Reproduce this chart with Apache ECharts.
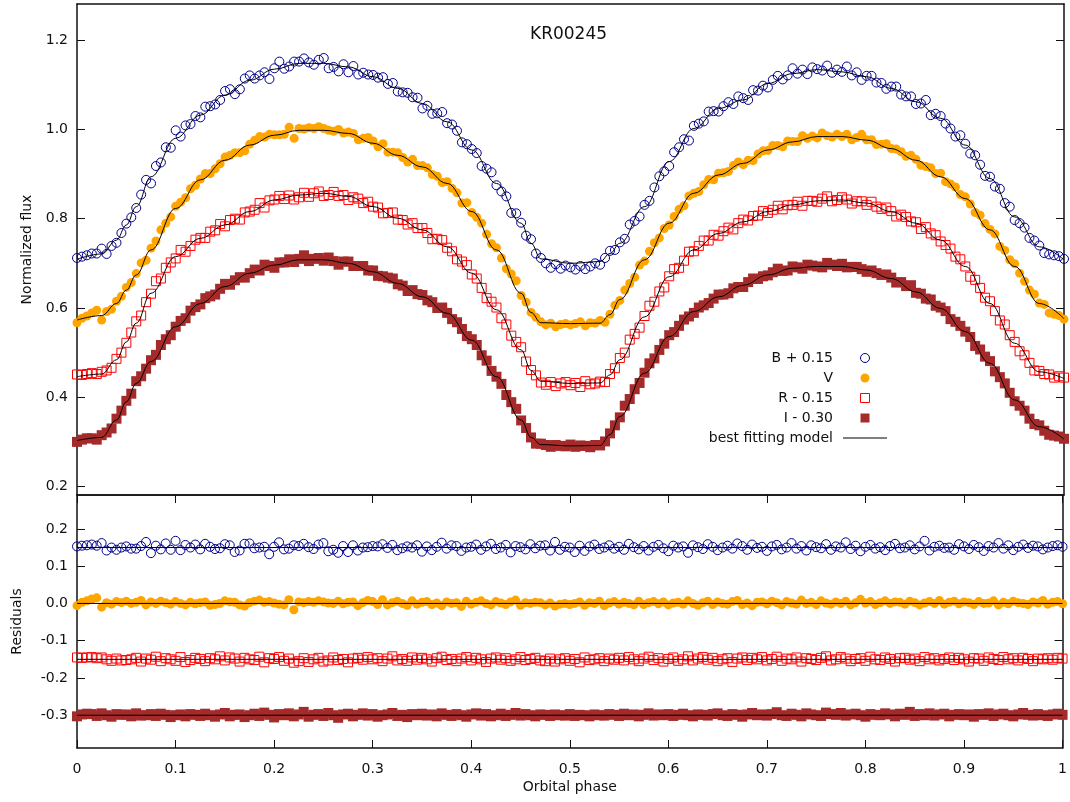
<!DOCTYPE html>
<html><head><meta charset="utf-8">
<script src="https://cdn.jsdelivr.net/npm/echarts@6/dist/echarts.min.js"></script>
<style>html,body{margin:0;padding:0;background:#fff}#c{width:1070px;height:802px}</style>
</head><body><div id="c"></div>
<script>
// Orbital phase of each observation
const phase = [0,.005,.01,.015,.02,.025,.03,.035,.04,.045,
.05,.055,.06,.065,.07,.075,.08,.085,.09,.095,
.1,.105,.11,.115,.12,.125,.13,.135,.14,.145,
.15,.155,.16,.165,.17,.175,.18,.185,.19,.195,
.2,.205,.21,.215,.22,.225,.23,.235,.24,.245,
.25,.255,.26,.265,.27,.275,.28,.285,.29,.295,
.3,.305,.31,.315,.32,.325,.33,.335,.34,.345,
.35,.355,.36,.365,.37,.375,.38,.385,.39,.395,
.4,.405,.41,.415,.42,.425,.43,.435,.44,.445,
.45,.455,.46,.465,.47,.475,.48,.485,.49,.495,
.5,.505,.51,.515,.52,.525,.53,.535,.54,.545,
.55,.555,.56,.565,.57,.575,.58,.585,.59,.595,
.6,.605,.61,.615,.62,.625,.63,.635,.64,.645,
.65,.655,.66,.665,.67,.675,.68,.685,.69,.695,
.7,.705,.71,.715,.72,.725,.73,.735,.74,.745,
.75,.755,.76,.765,.77,.775,.78,.785,.79,.795,
.8,.805,.81,.815,.82,.825,.83,.835,.84,.845,
.85,.855,.86,.865,.87,.875,.88,.885,.89,.895,
.9,.905,.91,.915,.92,.925,.93,.935,.94,.945,
.95,.955,.96,.965,.97,.975,.98,.985,.99,.995,
1];

// Normalized flux (shifted)
const bFlux = [.712,.715,.718,.722,.722,.733,.721,.739,.746,.768,
.789,.803,.824,.854,.887,.879,.918,.926,.960,.959,
.998,.984,1.009,1.012,1.030,1.027,1.051,1.052,1.056,1.066,
1.086,1.090,1.079,1.090,1.114,1.121,1.114,1.121,1.128,1.113,
1.137,1.152,1.136,1.141,1.152,1.152,1.159,1.150,1.145,1.156,
1.160,1.137,1.140,1.130,1.146,1.128,1.142,1.123,1.127,1.123,
1.122,1.116,1.117,1.102,1.104,1.085,1.083,1.082,1.072,1.071,
1.047,1.053,1.035,1.036,1.039,1.014,1.011,.997,.971,.967,
.956,.947,.918,.912,.904,.875,.861,.850,.813,.812,
.791,.762,.754,.722,.712,.700,.690,.698,.688,.695,
.691,.686,.694,.687,.693,.700,.697,.712,.728,.730,
.747,.755,.787,.795,.805,.831,.840,.870,.895,.906,
.918,.949,.960,.978,.975,1.008,1.013,1.018,1.040,1.041,
1.040,1.052,1.061,1.057,1.074,1.070,1.066,1.088,1.087,1.098,
1.094,1.111,1.120,1.112,1.121,1.137,1.125,1.134,1.124,1.139,
1.135,1.132,1.143,1.127,1.134,1.129,1.141,1.121,1.128,1.111,
1.120,1.120,1.105,1.104,1.091,1.096,1.096,1.078,1.074,1.074,
1.057,1.058,1.066,1.032,1.035,1.030,1.013,1.002,.984,.987,
.968,.946,.942,.921,.896,.894,.872,.867,.835,.827,
.797,.790,.780,.757,.751,.740,.723,.720,.718,.716,
.710];

const vFlux = [.567,.577,.582,.589,.595,.573,.592,.597,.615,.626,
.646,.657,.677,.701,.707,.734,.750,.775,.790,.804,
.828,.837,.847,.867,.875,.889,.901,.901,.912,.923,
.938,.942,.948,.948,.952,.967,.976,.984,.983,.989,
.988,.988,.989,1.005,.980,1.002,1.001,1.004,1.002,1.006,
1.002,.998,.996,1.000,.992,.994,.991,.977,.980,.982,
.974,.961,.968,.949,.949,.948,.937,.927,.933,.919,
.919,.914,.899,.895,.881,.883,.868,.858,.835,.836,
.814,.803,.790,.765,.744,.735,.712,.688,.676,.661,
.628,.613,.590,.579,.569,.562,.566,.558,.563,.565,
.562,.565,.569,.560,.567,.566,.572,.568,.586,.606,
.617,.640,.655,.669,.696,.705,.727,.746,.757,.778,
.786,.805,.821,.829,.851,.857,.861,.876,.888,.887,
.902,.903,.906,.919,.927,.921,.931,.930,.945,.952,
.953,.964,.964,.961,.974,.973,.973,.986,.980,.985,
.981,.992,.986,.983,.989,.984,.989,.977,.982,.989,
.977,.977,.966,.967,.968,.957,.956,.950,.940,.942,
.933,.920,.917,.914,.901,.902,.883,.878,.871,.854,
.849,.833,.814,.808,.789,.776,.766,.738,.729,.708,
.699,.678,.660,.640,.631,.611,.608,.589,.586,.583,
.575];

const rFlux = [.451,.450,.452,.454,.452,.457,.460,.466,.486,.500,
.522,.545,.570,.583,.613,.632,.660,.666,.690,.702,
.711,.730,.726,.739,.753,.757,.757,.771,.774,.788,
.783,.797,.800,.798,.814,.816,.820,.835,.825,.841,
.843,.851,.844,.852,.843,.848,.858,.849,.857,.861,
.851,.853,.860,.851,.853,.842,.848,.845,.835,.838,
.827,.825,.812,.813,.814,.798,.797,.787,.790,.779,
.779,.768,.754,.755,.752,.735,.727,.709,.704,.696,
.675,.666,.645,.622,.614,.601,.577,.563,.538,.524,
.512,.480,.461,.449,.433,.428,.434,.425,.431,.434,
.427,.432,.423,.436,.429,.431,.435,.434,.452,.465,
.488,.500,.529,.542,.556,.582,.605,.614,.637,.646,
.671,.687,.690,.706,.726,.727,.739,.751,.751,.764,
.762,.772,.780,.776,.790,.798,.796,.806,.807,.817,
.813,.820,.829,.821,.830,.831,.838,.829,.840,.840,
.838,.845,.850,.839,.842,.848,.843,.834,.839,.839,
.831,.838,.827,.822,.825,.817,.805,.809,.804,.794,
.792,.777,.781,.767,.763,.749,.741,.733,.715,.709,
.693,.670,.663,.645,.623,.615,.593,.572,.563,.539,
.524,.503,.494,.477,.460,.459,.452,.451,.444,.447,
.444];

const iFlux = [.300,.305,.308,.308,.305,.315,.321,.330,.352,.370,
.392,.408,.436,.447,.464,.483,.495,.517,.530,.539,
.558,.571,.577,.594,.602,.608,.622,.626,.630,.643,
.654,.652,.662,.669,.668,.678,.686,.684,.697,.694,
.690,.702,.702,.709,.703,.710,.718,.705,.710,.712,
.706,.713,.705,.697,.704,.704,.694,.694,.694,.684,
.684,.672,.671,.668,.666,.653,.650,.638,.640,.631,
.629,.617,.613,.600,.601,.589,.575,.568,.553,.537,
.530,.517,.494,.482,.459,.446,.430,.405,.389,.374,
.348,.331,.310,.296,.296,.293,.289,.293,.291,.290,
.294,.289,.292,.291,.288,.293,.292,.301,.319,.337,
.355,.381,.396,.418,.432,.455,.476,.487,.506,.520,
.539,.546,.560,.574,.581,.589,.601,.606,.611,.621,
.630,.630,.633,.644,.647,.647,.658,.666,.665,.671,
.673,.680,.688,.683,.684,.693,.691,.688,.697,.695,
.693,.691,.701,.697,.694,.699,.691,.692,.692,.687,
.681,.684,.678,.674,.675,.668,.657,.658,.649,.651,
.634,.632,.621,.619,.605,.601,.593,.575,.569,.560,
.547,.535,.515,.507,.491,.481,.458,.445,.431,.410,
.391,.381,.370,.352,.340,.337,.325,.316,.314,.312,
.307];

// Residuals (shifted)
const bRes = [.153,.155,.156,.158,.155,.162,.142,.150,.144,.150,
.153,.147,.147,.154,.165,.135,.155,.145,.161,.144,
.168,.143,.157,.150,.158,.145,.160,.152,.146,.148,
.159,.156,.138,.142,.160,.161,.148,.150,.152,.132,
.152,.164,.145,.147,.156,.154,.160,.151,.146,.158,
.162,.140,.144,.136,.154,.138,.156,.142,.150,.151,
.154,.153,.159,.149,.157,.143,.148,.153,.150,.156,
.139,.153,.143,.152,.163,.147,.156,.154,.141,.150,
.152,.158,.144,.153,.160,.146,.150,.157,.137,.154,
.151,.145,.159,.148,.155,.156,.142,.165,.144,.152,
.150,.138,.155,.141,.153,.158,.146,.150,.156,.147,
.152,.144,.160,.151,.145,.154,.142,.152,.157,.148,
.140,.155,.150,.153,.136,.156,.151,.146,.159,.152,
.143,.150,.155,.147,.161,.154,.144,.158,.149,.152,
.141,.153,.157,.145,.150,.162,.147,.154,.142,.156,
.151,.148,.159,.144,.153,.150,.164,.146,.155,.140,
.152,.157,.147,.151,.143,.154,.160,.148,.150,.156,
.145,.153,.168,.142,.152,.155,.149,.150,.144,.159,
.153,.146,.157,.151,.141,.154,.150,.162,.147,.156,
.143,.152,.158,.149,.155,.153,.145,.150,.154,.156,
.152];

const vRes = [-.006,.003,.007,.012,.015,-.010,.002,-.002,.005,.002,
.006,0,.003,.008,-.004,.004,0,.006,.002,-.002,
.005,0,-.004,.003,-.001,.002,.004,-.005,-.003,0,
.007,.004,.003,-.004,-.007,.002,.006,.009,.003,.005,
.001,-.002,-.004,.010,-.017,.004,.002,.005,.003,.007,
.004,.001,0,.006,-.001,.003,.004,-.006,.002,.008,
.005,-.003,.010,-.004,.002,.006,0,-.005,.007,-.002,
.003,.005,-.003,.001,-.006,.004,0,.002,-.008,.006,
-.002,.003,.007,0,-.004,.005,.001,-.003,.004,.009,
-.005,.002,0,.003,.002,-.004,.001,-.007,-.002,0,
-.003,0,.004,-.005,.002,0,.006,-.006,.001,.005,
-.002,.003,0,-.004,.006,-.003,.002,.005,-.001,.004,
-.004,.001,.003,-.002,.007,0,-.005,.002,.006,-.003,
.004,0,-.002,.005,.008,-.003,.001,-.006,.003,.004,
-.001,.006,.002,-.004,.005,.001,-.002,.009,0,.003,
-.003,.007,.001,-.002,.004,0,.006,-.004,.002,.011,
.001,.005,-.003,.002,.007,0,.004,.003,-.002,.006,
.002,-.004,.001,.005,0,.008,-.002,.003,.006,-.001,
.004,.002,-.003,.005,0,.001,.007,-.004,.003,-.001,
.006,.002,0,-.003,.004,.001,.008,-.002,.003,.005,
-.001];

const rRes = [-.145,-.146,-.145,-.144,-.147,-.145,-.150,-.154,-.148,-.153,
-.152,-.150,-.146,-.156,-.148,-.151,-.143,-.155,-.147,-.150,
-.154,-.144,-.157,-.152,-.146,-.149,-.155,-.147,-.150,-.142,
-.153,-.145,-.148,-.156,-.146,-.150,-.152,-.143,-.158,-.147,
-.149,-.144,-.154,-.148,-.159,-.155,-.147,-.157,-.150,-.146,
-.156,-.153,-.145,-.152,-.149,-.158,-.148,-.146,-.151,-.144,
-.150,-.147,-.155,-.148,-.142,-.153,-.149,-.154,-.145,-.151,
-.146,-.150,-.156,-.147,-.143,-.152,-.149,-.155,-.148,-.144,
-.153,-.146,-.150,-.157,-.148,-.145,-.151,-.147,-.154,-.150,
-.144,-.152,-.149,-.146,-.153,-.155,-.148,-.156,-.150,-.147,
-.154,-.149,-.158,-.145,-.152,-.150,-.147,-.155,-.148,-.151,
-.146,-.153,-.144,-.150,-.155,-.148,-.143,-.152,-.147,-.156,
-.149,-.145,-.154,-.150,-.142,-.153,-.148,-.144,-.151,-.146,
-.155,-.150,-.147,-.157,-.148,-.145,-.152,-.146,-.150,-.144,
-.153,-.149,-.143,-.154,-.148,-.150,-.145,-.156,-.147,-.149,
-.152,-.146,-.142,-.153,-.150,-.144,-.148,-.155,-.149,-.147,
-.154,-.143,-.150,-.152,-.145,-.149,-.156,-.147,-.146,-.151,
-.148,-.155,-.144,-.150,-.147,-.153,-.149,-.145,-.152,-.146,
-.150,-.156,-.147,-.148,-.154,-.145,-.149,-.152,-.144,-.150,
-.147,-.153,-.146,-.149,-.155,-.148,-.150,-.147,-.151,-.146,
-.148];

const iRes = [-.303,-.298,-.296,-.297,-.302,-.295,-.300,-.304,-.297,-.299,
-.298,-.303,-.295,-.301,-.300,-.297,-.302,-.296,-.299,-.305,
-.300,-.298,-.303,-.297,-.299,-.302,-.296,-.300,-.304,-.298,
-.294,-.303,-.299,-.298,-.305,-.300,-.296,-.302,-.293,-.299,
-.306,-.297,-.300,-.295,-.303,-.298,-.291,-.304,-.299,-.297,
-.302,-.294,-.300,-.307,-.298,-.296,-.303,-.299,-.295,-.301,
-.297,-.304,-.300,-.298,-.294,-.302,-.299,-.305,-.297,-.300,
-.296,-.301,-.298,-.303,-.295,-.299,-.302,-.297,-.300,-.304,
-.298,-.295,-.301,-.297,-.303,-.300,-.296,-.302,-.299,-.294,
-.301,-.297,-.300,-.303,-.298,-.299,-.302,-.298,-.300,-.301,
-.297,-.302,-.299,-.300,-.303,-.298,-.300,-.301,-.297,-.299,
-.302,-.296,-.300,-.298,-.303,-.299,-.295,-.301,-.298,-.300,
-.297,-.302,-.299,-.296,-.300,-.303,-.298,-.299,-.301,-.297,
-.295,-.300,-.302,-.297,-.299,-.304,-.298,-.294,-.300,-.298,
-.301,-.297,-.292,-.300,-.302,-.296,-.299,-.303,-.295,-.298,
-.300,-.302,-.293,-.297,-.299,-.294,-.301,-.298,-.296,-.300,
-.304,-.297,-.299,-.300,-.295,-.298,-.303,-.296,-.299,-.291,
-.302,-.297,-.300,-.295,-.301,-.298,-.296,-.303,-.299,-.297,
-.300,-.298,-.304,-.297,-.299,-.295,-.302,-.298,-.296,-.300,
-.303,-.298,-.294,-.299,-.301,-.297,-.300,-.302,-.298,-.296,
-.299];

// Best fitting model curves
const modelPhase = [0,.025,.04,.05,.06,.075,.1,.125,.15,.175,.2,.225,.25,.275,.3,.325,.35,.375,.4,.425,.45,.46,.47,.5,.53,.54,.55,.575,.6,.625,.65,.675,.7,.725,.75,.775,.8,.825,.85,.875,.9,.925,.95,.975,1];
const bModel = [.709,.721,.752,.786,.827,.894,.980,1.032,1.077,1.110,1.135,1.148,1.148,1.140,1.118,1.092,1.058,1.017,.954,.879,.790,.745,.710,.700,.704,.722,.745,.827,.928,1.002,1.047,1.066,1.103,1.125,1.134,1.129,1.118,1.092,1.062,1.025,.965,.890,.804,.737,.708];
const vModel = [.573,.583,.610,.640,.674,.730,.823,.887,.931,.965,.987,.998,.998,.991,.969,.942,.916,.879,.816,.730,.633,.590,.567,.565,.566,.585,.619,.708,.790,.857,.898,.924,.954,.972,.984,.984,.976,.957,.931,.894,.845,.775,.693,.610,.576];
const rModel = [.446,.452,.484,.524,.566,.633,.715,.756,.786,.816,.842,.853,.857,.850,.827,.801,.775,.737,.678,.596,.506,.460,.436,.431,.432,.450,.484,.580,.670,.730,.767,.793,.816,.831,.840,.842,.835,.816,.790,.752,.693,.610,.521,.457,.442];
const iModel = [.303,.310,.349,.390,.431,.480,.558,.610,.648,.678,.696,.708,.708,.700,.681,.655,.625,.588,.528,.446,.349,.310,.294,.291,.292,.316,.357,.454,.536,.592,.625,.651,.674,.689,.693,.693,.685,.666,.636,.599,.547,.476,.394,.334,.306];
const resOffsets = [0.15, 0, -0.15, -0.30];

const fluxTicks = [0.2,0.4,0.6,0.8,1.0,1.2];
const resTicks = [-0.3,-0.2,-0.1,0,0.1,0.2];
const seriesNames = ['B + 0.15','V','R - 0.15','I - 0.30'];
const modelName = 'best fitting model';

const FONT = 'DejaVu Sans';
const INK = '#111';
const SQUARE = 'path://M0,0H10V10H0Z';
const pair = (xs, ys) => xs.map((x, i) => [x, ys[i]]);

const styles = [
  {symbol:'circle', symbolSize:9, itemStyle:{color:'rgba(0,0,0,0)', borderColor:'#00008b', borderWidth:1, opacity:1}},
  {symbol:'circle', symbolSize:9, itemStyle:{color:'#ffa500', opacity:1}},
  {symbol:SQUARE, symbolSize:9, symbolKeepAspect:true, itemStyle:{color:'rgba(0,0,0,0)', borderColor:'#ff0000', borderWidth:1, opacity:1}},
  {symbol:SQUARE, symbolSize:10, symbolKeepAspect:true, itemStyle:{color:'#a52a2a', opacity:1}}
];
const fluxData = [bFlux, vFlux, rFlux, iFlux];
const resData = [bRes, vRes, rRes, iRes];
const modelData = [bModel, vModel, rModel, iModel];

const series = [];
fluxData.forEach((d, k) => series.push(Object.assign({
  type:'scatter', name:seriesNames[k], xAxisIndex:0, yAxisIndex:0, z:2,
  data: pair(phase, d)
}, styles[k])));
resData.forEach((d, k) => series.push(Object.assign({
  type:'scatter', name:seriesNames[k], xAxisIndex:2, yAxisIndex:2, z:2,
  data: pair(phase, d)
}, styles[k])));
modelData.forEach((d) => series.push({
  type:'line', name:modelName, xAxisIndex:0, yAxisIndex:0, z:3,
  symbol:'none', smooth:0.4, smoothMonotone:'x',
  lineStyle:{color:'#000', width:1}, itemStyle:{color:'#000'},
  data: pair(modelPhase, d)
}));
resOffsets.forEach((o) => series.push({
  type:'line', name:modelName, xAxisIndex:2, yAxisIndex:2, z:3,
  symbol:'none', lineStyle:{color:'#000', width:1}, itemStyle:{color:'#000'},
  data: [[0, o], [1, o]]
}));

const axisLine = {show:true, onZero:false, lineStyle:{color:INK, width:1.5}};
const tickIn = (vals) => ({show:true, inside:true, length:8, lineStyle:{color:INK, width:1}, customValues: vals});
const lbl = {fontFamily:FONT, fontSize:14, color:INK};

const xBase = {type:'value', min:0, max:1, interval:0.1, splitLine:{show:false}, axisLine};
const legendItems = [
  {name:seriesNames[0], itemStyle:{borderWidth:1}},
  {name:seriesNames[1]},
  {name:seriesNames[2], itemStyle:{borderWidth:1}},
  {name:seriesNames[3]},
  {name:modelName, icon:'path://M0,0H44V1H0Z', itemStyle:{color:'#000'}}
];

const option = {
  animation:false,
  backgroundColor:'#fff',
  title:{text:'KR00245', left:525, top:21, textStyle:{fontFamily:FONT, fontSize:17, fontWeight:'normal', color:INK}},
  legend:{
    orient:'vertical', align:'right', right:183, top:351, padding:0,
    itemWidth:44, itemHeight:9, itemGap:6, selectedMode:false,
    textStyle:{fontFamily:FONT, fontSize:14, color:INK, lineHeight:14, padding:[0,5,0,0]},
    data: legendItems
  },
  grid:[
    {left:77, right:6, top:4, height:491},
    {left:77, right:6, top:495, height:253}
  ],
  xAxis:[
    Object.assign({}, xBase, {gridIndex:0, position:'bottom', axisTick:{show:false}, axisLabel:{show:false}}),
    Object.assign({}, xBase, {gridIndex:0, position:'top', axisTick:{show:false}, axisLabel:{show:false}}),
    Object.assign({}, xBase, {gridIndex:1, position:'bottom',
      axisTick:{show:true, inside:true, length:8, lineStyle:{color:INK, width:1}},
      axisLabel:Object.assign({margin:14, formatter:(v)=>String(+v.toFixed(1))}, lbl),
      name:'Orbital phase', nameLocation:'middle', nameGap:32, nameTextStyle:lbl}),
    Object.assign({}, xBase, {gridIndex:1, position:'top',
      axisTick:{show:true, inside:true, length:8, lineStyle:{color:INK, width:1}}, axisLabel:{show:false}})
  ],
  yAxis:[
    {type:'value', gridIndex:0, position:'left', min:0.181, max:1.281, splitLine:{show:false}, axisLine,
     axisTick:tickIn(fluxTicks),
     axisLabel:Object.assign({margin:9, customValues:fluxTicks, formatter:(v)=>v.toFixed(1)}, lbl),
     name:'Normalized flux', nameLocation:'middle', nameRotate:90, nameGap:42, nameTextStyle:lbl},
    {type:'value', gridIndex:0, position:'right', min:0.181, max:1.281, splitLine:{show:false}, axisLine,
     axisTick:tickIn(fluxTicks), axisLabel:{show:false}},
    {type:'value', gridIndex:1, position:'left', min:-0.388, max:0.291, splitLine:{show:false}, axisLine,
     axisTick:tickIn(resTicks),
     axisLabel:Object.assign({margin:9, customValues:resTicks, formatter:(v)=>v.toFixed(1)}, lbl),
     name:'Residuals', nameLocation:'middle', nameRotate:90, nameGap:53, nameTextStyle:lbl},
    {type:'value', gridIndex:1, position:'right', min:-0.388, max:0.291, splitLine:{show:false}, axisLine,
     axisTick:tickIn(resTicks), axisLabel:{show:false}}
  ],
  series
};
const chart = echarts.init(document.getElementById('c'), null, {renderer:'canvas'});
chart.setOption(option);
</script>
</body></html>
